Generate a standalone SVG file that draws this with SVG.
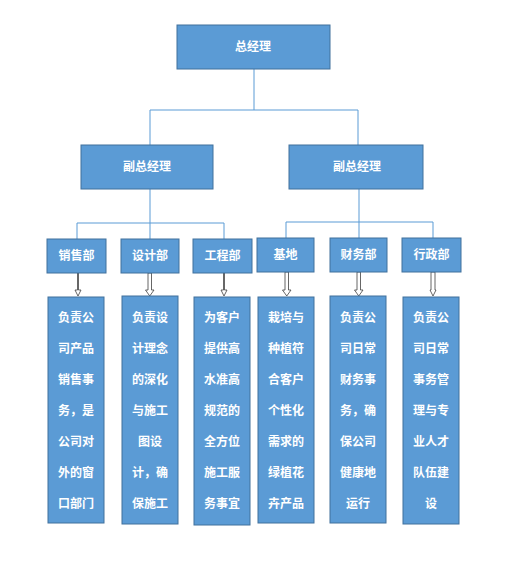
<svg xmlns="http://www.w3.org/2000/svg" width="517" height="585" viewBox="0 0 517 585">
<style>
.box{fill:#5B9BD5;stroke:#41719C;stroke-width:1}
.t{font-family:"Noto Sans CJK SC","Noto Sans CJK JP",sans-serif;font-weight:bold;font-size:12px;fill:#FFFFFF;text-anchor:middle}
.c{fill:none;stroke:#5B9BD5;stroke-width:1}
.ar{fill:#FFFFFF;stroke:#404040;stroke-width:0.8}
</style>
<rect width="517" height="585" fill="#FFFFFF"/>
<g id="connectors">
<path class="c" d="M254,69V110M150,110H358M150,110V145M358,110V145"/>
<path class="c" d="M150,189V223M77,223H224M77,223V239M150,223V239M224,223V239"/>
<path class="c" d="M359,189V222M286,222H433M286,222V238M359,222V238M433,222V238"/>
<path class="ar" d="M77.5,273H78.5V290H81L78,296L75,290H77.5Z"/>
<path class="ar" d="M148,273H151.5V290H154L149.75,296L145.5,290H148Z"/>
<path class="ar" d="M223.5,273H224.5V290H227L224,296L221,290H223.5Z"/>
<path class="ar" d="M285,272H288.5V290H291L286.75,296L282.5,290H285Z"/>
<path class="ar" d="M357,272H360.5V290H363L358.75,296L354.5,290H357Z"/>
<path class="ar" d="M431,272H435V290H436L433,296L430,290H431Z"/>
</g>
<g id="gm"><rect class="box" x="177" y="25" width="153" height="44"/><text class="t" x="253" y="51">总经理</text></g>
<g id="vp1"><rect class="box" x="81" y="145" width="132" height="44"/><text class="t" x="147" y="171">副总经理</text></g>
<g id="vp2"><rect class="box" x="289" y="145" width="134" height="44"/><text class="t" x="357" y="171">副总经理</text></g>
<g id="sales"><rect class="box" x="47" y="239" width="59" height="34"/><text class="t" x="76.5" y="260">销售部</text></g>
<g id="design"><rect class="box" x="121" y="239" width="58" height="34"/><text class="t" x="150" y="260">设计部</text></g>
<g id="eng"><rect class="box" x="193" y="239" width="59" height="34"/><text class="t" x="222.5" y="260">工程部</text></g>
<g id="base"><rect class="box" x="257" y="238" width="57" height="34"/><text class="t" x="285.5" y="259">基地</text></g>
<g id="finance"><rect class="box" x="330" y="238" width="57" height="34"/><text class="t" x="358.5" y="259">财务部</text></g>
<g id="admin"><rect class="box" x="402" y="238" width="59" height="34"/><text class="t" x="431.5" y="259">行政部</text></g>
<g id="d1"><rect class="box" x="48" y="297" width="56" height="226"/>
<text class="t" x="76" y="322">负责公</text><text class="t" x="76" y="353">司产品</text><text class="t" x="76" y="384">销售事</text><text class="t" x="76" y="415">务，是</text><text class="t" x="76" y="446">公司对</text><text class="t" x="76" y="477">外的窗</text><text class="t" x="76" y="508">口部门</text></g>
<g id="d2"><rect class="box" x="122" y="296" width="56" height="228"/>
<text class="t" x="150" y="322">负责设</text><text class="t" x="150" y="353">计理念</text><text class="t" x="150" y="384">的深化</text><text class="t" x="150" y="415">与施工</text><text class="t" x="150" y="446">图设</text><text class="t" x="150" y="477">计，确</text><text class="t" x="150" y="508">保施工</text></g>
<g id="d3"><rect class="box" x="194" y="297" width="56" height="228"/>
<text class="t" x="222" y="322">为客户</text><text class="t" x="222" y="353">提供高</text><text class="t" x="222" y="384">水准高</text><text class="t" x="222" y="415">规范的</text><text class="t" x="222" y="446">全方位</text><text class="t" x="222" y="477">施工服</text><text class="t" x="222" y="508">务事宜</text></g>
<g id="d4"><rect class="box" x="258" y="297" width="56" height="226"/>
<text class="t" x="286" y="322">栽培与</text><text class="t" x="286" y="353">种植符</text><text class="t" x="286" y="384">合客户</text><text class="t" x="286" y="415">个性化</text><text class="t" x="286" y="446">需求的</text><text class="t" x="286" y="477">绿植花</text><text class="t" x="286" y="508">卉产品</text></g>
<g id="d5"><rect class="box" x="330" y="296" width="56" height="227"/>
<text class="t" x="358" y="322">负责公</text><text class="t" x="358" y="353">司日常</text><text class="t" x="358" y="384">财务事</text><text class="t" x="358" y="415">务，确</text><text class="t" x="358" y="446">保公司</text><text class="t" x="358" y="477">健康地</text><text class="t" x="358" y="508">运行</text></g>
<g id="d6"><rect class="box" x="403" y="297" width="56" height="227"/>
<text class="t" x="431" y="322">负责公</text><text class="t" x="431" y="353">司日常</text><text class="t" x="431" y="384">事务管</text><text class="t" x="431" y="415">理与专</text><text class="t" x="431" y="446">业人才</text><text class="t" x="431" y="477">队伍建</text><text class="t" x="431" y="508">设</text></g>
</svg>
